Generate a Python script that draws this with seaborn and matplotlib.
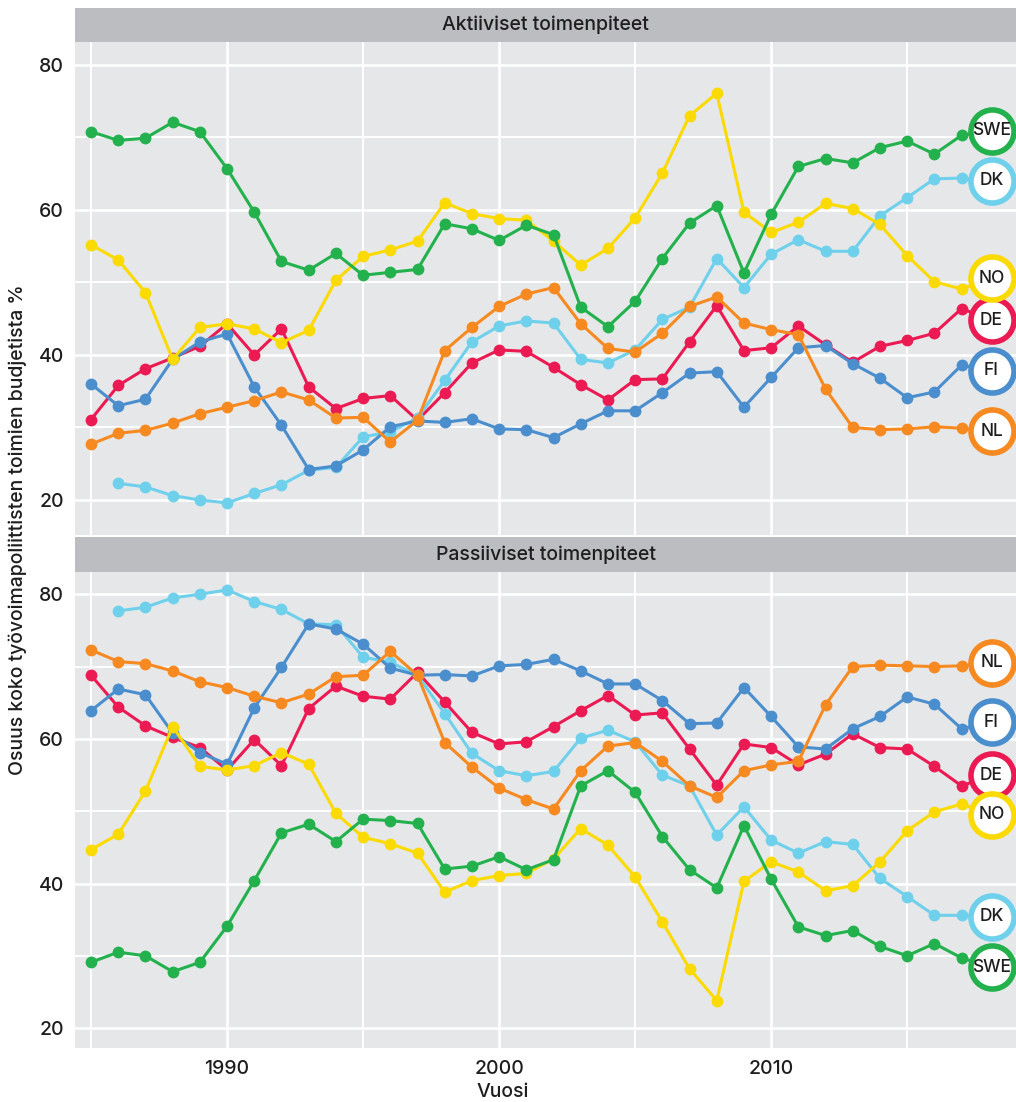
import numpy as np
import pandas as pd
import matplotlib
matplotlib.use("Agg")
import matplotlib.pyplot as plt
import seaborn as sns

# vuodet 1985-2017
years = list(range(1985, 2018))
countries = ["DE", "DK", "FI", "NL", "NO", "SWE"]
colors = {"DE": "#EC1A52", "DK": "#6FD0EC", "FI": "#4A8ECD",
          "NL": "#F6891F", "NO": "#FBDA00", "SWE": "#22B14C"}
nan = np.nan

# Aktiiviset toimenpiteet (% budjetista)
akt_de = [31.1, 35.8, 38.1, 39.6, 41.2, 44.3, 40.0, 43.6, 35.6, 32.6, 34.0, 34.4,
          31.0, 34.8, 38.9, 40.7, 40.5, 38.3, 35.9, 33.8, 36.6, 36.7, 41.8,
          46.8, 40.6, 41.0, 44.0, 41.4, 39.0, 41.2, 42.0, 43.0, 46.4]
akt_dk = [nan, 22.3, 21.8, 20.6, 20.0, 19.6, 20.9, 22.1, 24.1, 24.5, 28.7, 29.4,
          31.3, 36.5, 41.8, 44.0, 44.7, 44.4, 39.4, 38.9, 40.7, 44.9, 46.6,
          53.3, 49.3, 53.9, 55.9, 54.3, 54.3, 59.2, 61.7, 64.3, 64.4]
akt_fi = [36.0, 33.0, 33.9, 39.4, 41.8, 42.9, 35.6, 30.3, 24.2, 24.7, 26.9, 30.1,
          30.9, 30.7, 31.2, 29.8, 29.7, 28.6, 30.5, 32.3, 32.3, 34.8, 37.5,
          37.7, 32.8, 36.9, 41.0, 41.3, 38.8, 36.8, 34.1, 34.9, 38.6]
akt_nl = [27.7, 29.2, 29.6, 30.6, 31.9, 32.8, 33.7, 34.9, 33.8, 31.3, 31.4, 28.0,
          31.0, 40.6, 43.8, 46.7, 48.4, 49.3, 44.3, 40.9, 40.4, 43.0, 46.7,
          48.0, 44.4, 43.5, 42.8, 35.3, 30.0, 29.7, 29.8, 30.1, 29.9]
akt_no = [55.2, 53.1, 48.6, 39.4, 43.8, 44.3, 43.6, 41.7, 43.4, 50.3, 53.6, 54.5,
          55.7, 61.0, 59.5, 58.8, 58.6, 55.7, 52.4, 54.7, 58.9, 65.1, 73.0,
          76.1, 59.7, 56.9, 58.3, 60.9, 60.2, 58.0, 53.7, 50.1, 49.1]
akt_swe = [70.8, 69.6, 69.9, 72.1, 70.8, 65.7, 59.7, 52.9, 51.7, 54.0, 51.0, 51.4,
           51.8, 58.1, 57.4, 55.8, 57.9, 56.6, 46.6, 43.9, 47.4, 53.3, 58.2,
           60.6, 51.3, 59.4, 66.0, 67.1, 66.5, 68.6, 69.5, 67.7, 70.3]

# Passiiviset toimenpiteet (% budjetista)
pas_de = [68.8, 64.4, 61.8, 60.2, 58.8, 55.7, 59.9, 56.3, 64.2, 67.3, 65.9, 65.5,
          69.2, 65.1, 60.9, 59.3, 59.6, 61.7, 63.9, 66.0, 63.3, 63.6, 58.6,
          53.6, 59.3, 58.8, 56.4, 57.9, 60.7, 58.8, 58.6, 56.2, 53.5]
pas_dk = [nan, 77.7, 78.2, 79.5, 80.0, 80.6, 79.0, 77.9, 75.9, 75.8, 71.3, 70.6,
          68.8, 63.5, 58.0, 55.6, 54.9, 55.5, 60.1, 61.2, 59.6, 55.0, 53.5,
          46.7, 50.6, 46.0, 44.2, 45.8, 45.4, 40.7, 38.2, 35.6, 35.6]
pas_fi = [63.9, 66.9, 66.1, 60.8, 58.1, 56.5, 64.3, 69.9, 75.9, 75.2, 73.1, 69.8,
          68.8, 68.9, 68.7, 70.1, 70.3, 71.0, 69.4, 67.6, 67.6, 65.3, 62.1,
          62.2, 67.1, 63.1, 58.9, 58.6, 61.4, 63.1, 65.8, 64.8, 61.4]
pas_nl = [72.3, 70.7, 70.4, 69.4, 67.9, 67.1, 65.9, 65.0, 66.2, 68.6, 68.8, 72.1,
          68.8, 59.5, 56.1, 53.2, 51.6, 50.3, 55.6, 59.0, 59.5, 56.9, 53.5,
          51.9, 55.6, 56.4, 56.9, 64.7, 70.0, 70.2, 70.1, 70.0, 70.1]
pas_no = [44.7, 46.8, 52.8, 61.7, 56.2, 55.7, 56.3, 58.1, 56.5, 49.7, 46.4, 45.5,
          44.2, 38.8, 40.4, 41.1, 41.4, 43.4, 47.6, 45.3, 40.9, 34.7, 28.2,
          23.8, 40.3, 43.0, 41.6, 39.0, 39.7, 43.0, 47.3, 49.9, 51.0]
pas_swe = [29.1, 30.5, 30.0, 27.8, 29.1, 34.1, 40.4, 47.0, 48.2, 45.8, 48.9, 48.7,
           48.3, 42.0, 42.4, 43.7, 41.9, 43.3, 53.5, 55.6, 52.6, 46.5, 41.9,
           39.4, 48.0, 40.6, 34.0, 32.8, 33.5, 31.3, 30.0, 31.7, 29.7]

# maatunnusten paikat (repel-tyyliin siirretty)
label_x = 2018.1
akt_label_y = {"SWE": 70.9, "DK": 64.0, "NO": 50.6, "DE": 44.8, "FI": 37.8, "NL": 29.5}
pas_label_y = {"NL": 70.5, "FI": 62.3, "DE": 55.0, "NO": 49.5, "DK": 35.4, "SWE": 28.4}

akt = {"DE": akt_de, "DK": akt_dk, "FI": akt_fi, "NL": akt_nl, "NO": akt_no, "SWE": akt_swe}
pas = {"DE": pas_de, "DK": pas_dk, "FI": pas_fi, "NL": pas_nl, "NO": pas_no, "SWE": pas_swe}


def long_df(d):
    rows = []
    for c in countries:
        for y, v in zip(years, d[c]):
            rows.append((y, c, v))
    return pd.DataFrame(rows, columns=["vuosi", "maa", "osuus"]).dropna()


sns.set_theme(style="darkgrid", rc={
    "axes.facecolor": "#E6E7E9",
    "grid.color": "white",
    "axes.edgecolor": "none",
})
plt.rcParams["font.family"] = ["Inter", "DejaVu Sans"]

W, H = 1016, 1102
fig = plt.figure(figsize=(W / 100, H / 100), dpi=100)
txt = "#1E1E1E"


def px_axes(left, top, right, bottom):
    return fig.add_axes([left / W, 1 - bottom / H, (right - left) / W, (bottom - top) / H])


panels = [
    ("Aktiiviset toimenpiteet", akt, akt_label_y, (8, 42, 535), (15.17, 83.17), False),
    ("Passiiviset toimenpiteet", pas, pas_label_y, (537, 572, 1048), (17.25, 83.08), True),
]

for title, data, lab_y, (s_top, p_top, p_bot), ylim, show_x in panels:
    # otsikkonauha
    sax = px_axes(75, s_top, 1016, p_top)
    sax.set_facecolor("#BCBDC0")
    sax.set_xticks([])
    sax.set_yticks([])
    sax.grid(False)
    sax.text(0.5, 0.5, title, ha="center", va="center", fontsize=14,
             fontweight="medium", color=txt, transform=sax.transAxes)

    ax = px_axes(75, p_top, 1016, p_bot)
    df = long_df(data)
    sns.lineplot(data=df, x="vuosi", y="osuus", hue="maa", hue_order=countries,
                 palette=colors, marker="o", markersize=8.5, markeredgewidth=0,
                 linewidth=2.2, legend=False, ax=ax)

    for c in countries:
        last = data[c][-1]
        ax.plot([years[-1], label_x], [last, lab_y[c]], color=colors[c], lw=2.2, zorder=4)
        ax.plot([label_x], [lab_y[c]], marker="o", markersize=31, markerfacecolor="white",
                markeredgecolor=colors[c], markeredgewidth=4, zorder=5, clip_on=False)
        ax.text(label_x, lab_y[c], c, ha="center", va="center", fontsize=12.5,
                fontweight="medium", color=txt, zorder=6)

    ax.set_xlim(1984.41, 2019.0)
    ax.set_ylim(*ylim)
    ax.set_xticks([1990, 2000, 2010])
    ax.set_xticks([1985, 1995, 2005, 2015], minor=True)
    ax.set_yticks([20, 40, 60, 80])
    ax.set_yticks([30, 50, 70], minor=True)
    ax.grid(which="major", color="white", lw=1.8)
    ax.grid(which="minor", color="white", lw=1.4)
    ax.tick_params(which="both", length=0, labelsize=14, colors=txt)
    ax.tick_params(axis="y", pad=8)
    ax.tick_params(axis="x", pad=9)
    for lab in ax.get_xticklabels() + ax.get_yticklabels():
        lab.set_fontweight("medium")
    ax.set_xlabel("")
    ax.set_ylabel("")
    if not show_x:
        ax.set_xticklabels([])

fig.text(503 / W, 1 - 1092 / H, "Vuosi", ha="center", va="center", fontsize=14,
         fontweight="medium", color=txt)
fig.text(18 / W, 1 - 530 / H, "Osuus koko työvoimapoliittisten toimien budjetista %",
         rotation=90, ha="center", va="center", fontsize=14, fontweight="medium", color=txt)

fig.savefig("out.png", dpi=100)
